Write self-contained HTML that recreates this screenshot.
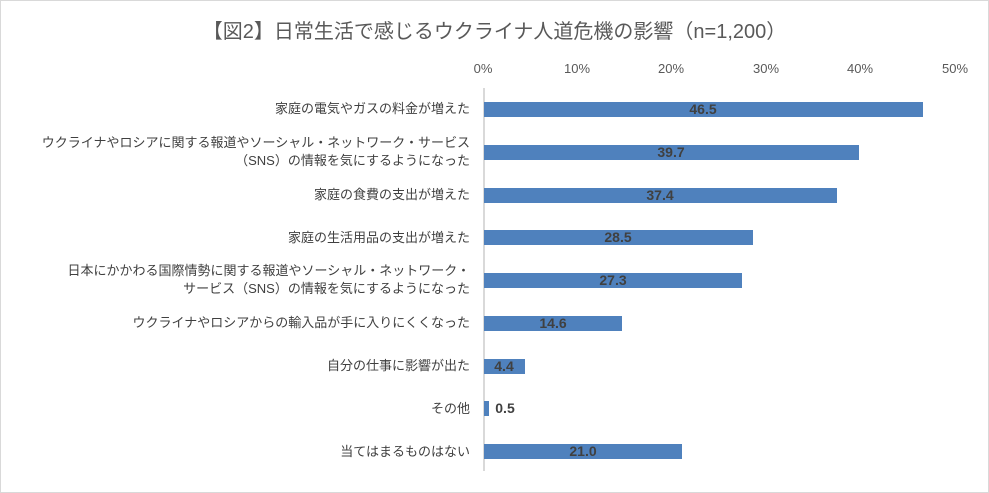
<!DOCTYPE html>
<html><head><meta charset="utf-8"><style>
body{margin:0;background:#fff;}
#c{position:relative;width:987px;height:491px;border:1px solid #d9d9d9;background:#fff;font-family:"Liberation Sans","Noto Sans CJK JP",sans-serif;color:#404040;overflow:hidden}
.t{position:absolute;top:14px;left:0;width:987px;text-align:center;font-size:20px;color:#595959}
.tk{position:absolute;top:60px;font-size:13px;color:#595959;width:60px;margin-left:-30px;text-align:center}
.cat{position:absolute;right:518px;font-size:13px;text-align:right;line-height:18px;color:#404040;white-space:nowrap}
.bar{position:absolute;height:15px;background:#4f81bd;left:483px}
.v{position:absolute;font-size:14px;font-weight:bold;color:#404040;width:60px;margin-left:-30px;text-align:center;line-height:15px}
</style></head><body><div id="c">
<div class="t">【図2】日常生活で感じるウクライナ人道危機の影響（n=1,200）</div>
<div class="tk" style="left:482px">0%</div>
<div class="tk" style="left:576px">10%</div>
<div class="tk" style="left:670px">20%</div>
<div class="tk" style="left:765px">30%</div>
<div class="tk" style="left:859px">40%</div>
<div class="tk" style="left:954px">50%</div>
<div style="position:absolute;left:482px;top:87px;width:2px;height:383px;background:#d9d9d9"></div>

<div class="cat" style="top:99px">家庭の電気やガスの料金が増えた</div>
<div class="cat" style="top:133px">ウクライナやロシアに関する報道やソーシャル・ネットワーク・サービス<br>（SNS）の情報を気にするようになった</div>
<div class="cat" style="top:185px">家庭の食費の支出が増えた</div>
<div class="cat" style="top:228px">家庭の生活用品の支出が増えた</div>
<div class="cat" style="top:261px">日本にかかわる国際情勢に関する報道やソーシャル・ネットワーク・<br>サービス（SNS）の情報を気にするようになった</div>
<div class="cat" style="top:313px">ウクライナやロシアからの輸入品が手に入りにくくなった</div>
<div class="cat" style="top:356px">自分の仕事に影響が出た</div>
<div class="cat" style="top:399px">その他</div>
<div class="cat" style="top:442px">当てはまるものはない</div>

<div class="bar" style="top:101px;width:439px"></div><div class="v" style="top:101px;left:702px">46.5</div>
<div class="bar" style="top:144px;width:375px"></div><div class="v" style="top:144px;left:670px">39.7</div>
<div class="bar" style="top:187px;width:353px"></div><div class="v" style="top:187px;left:659px">37.4</div>
<div class="bar" style="top:229px;width:269px"></div><div class="v" style="top:229px;left:617px">28.5</div>
<div class="bar" style="top:272px;width:258px"></div><div class="v" style="top:272px;left:612px">27.3</div>
<div class="bar" style="top:315px;width:138px"></div><div class="v" style="top:315px;left:552px">14.6</div>
<div class="bar" style="top:358px;width:41px"></div><div class="v" style="top:358px;left:503px">4.4</div>
<div class="bar" style="top:400px;width:5px"></div><div class="v" style="top:400px;left:504px">0.5</div>
<div class="bar" style="top:443px;width:198px"></div><div class="v" style="top:443px;left:582px">21.0</div>
</div></body></html>
